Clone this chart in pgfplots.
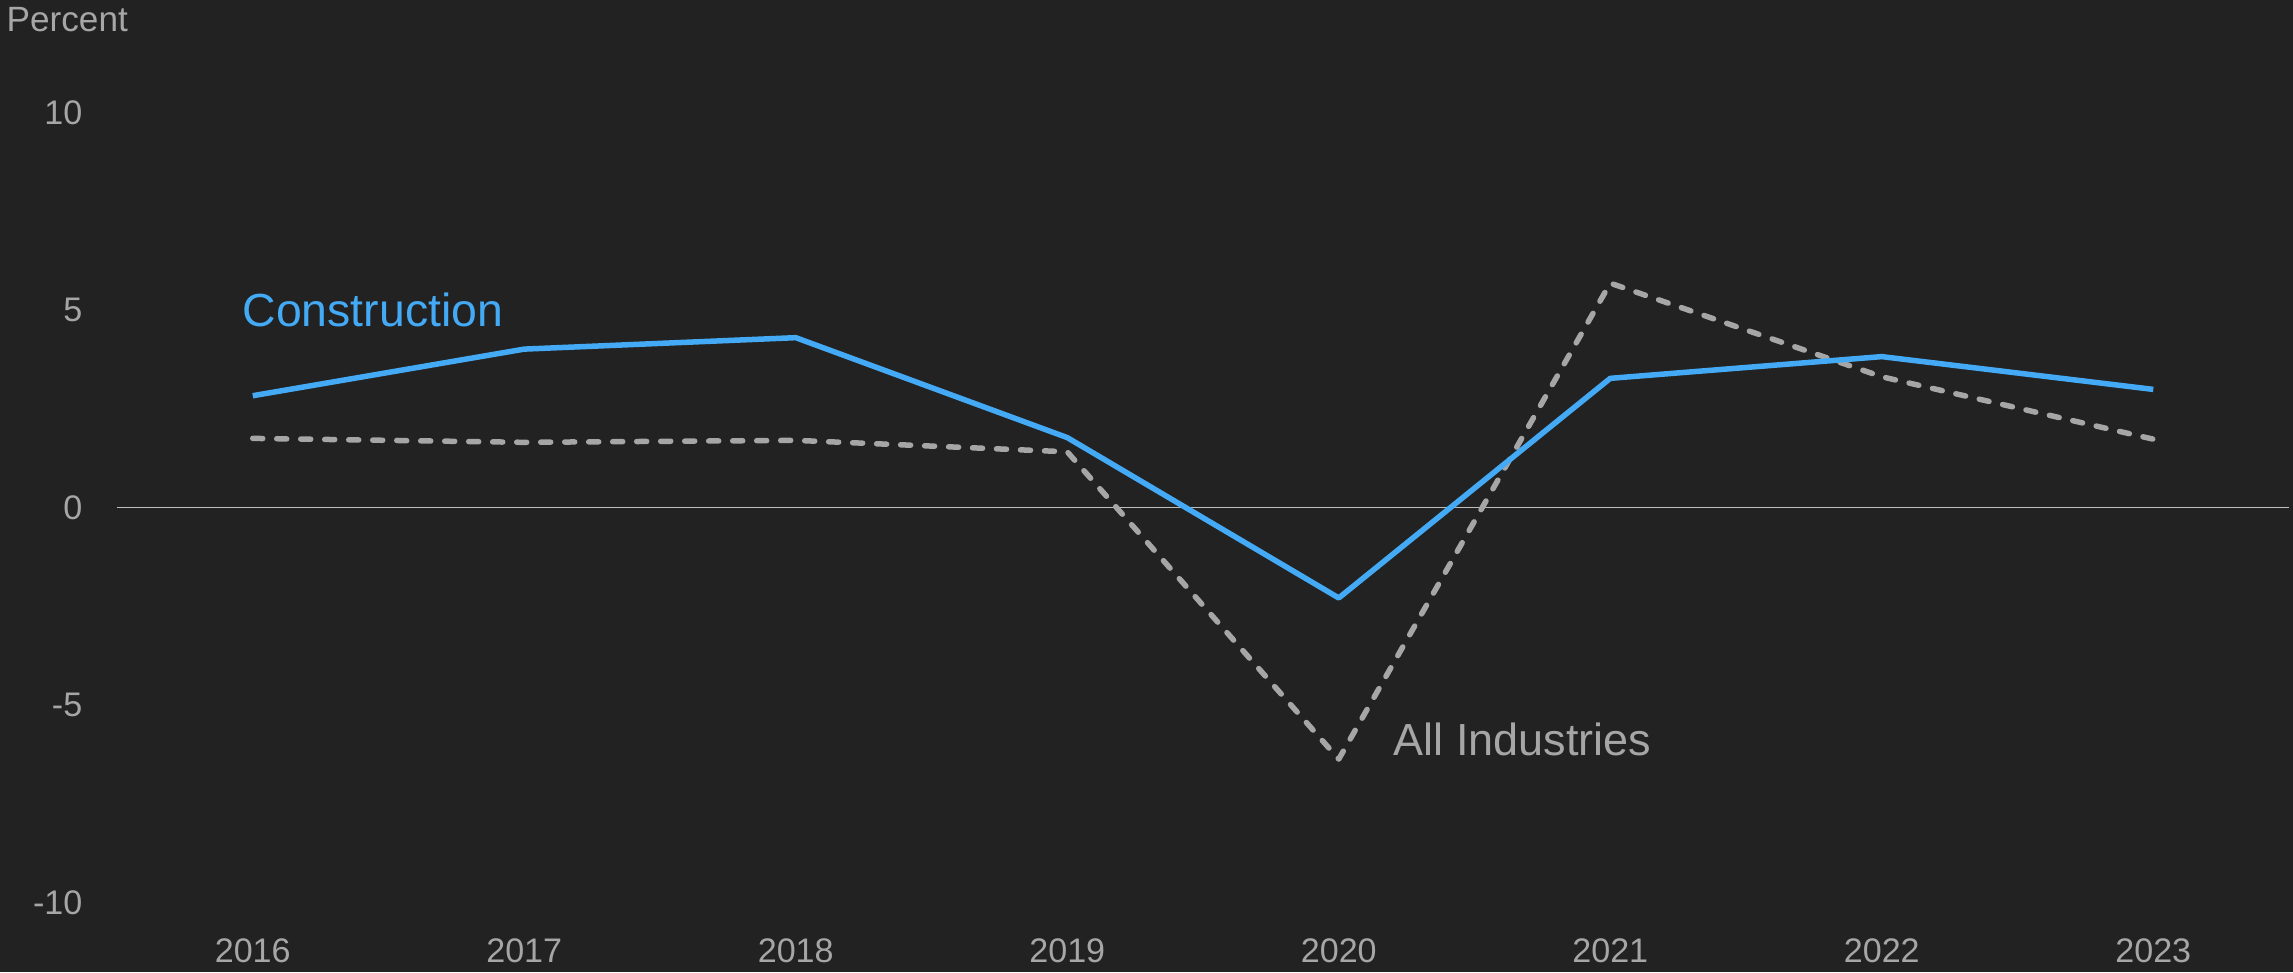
\documentclass[border=0pt]{standalone}
\usepackage{fontspec}
\setmainfont{Liberation Sans}
\usepackage{pgfplots}
\pgfplotsset{compat=1.18}
\definecolor{bg}{RGB}{34,34,34}
\definecolor{blueline}{RGB}{68,170,245}
\definecolor{grayline}{RGB}{166,166,166}
\definecolor{txt}{RGB}{166,166,166}
\definecolor{zero}{RGB}{190,190,190}
\begin{document}
\begin{tikzpicture}
\fill[bg] (0,0) rectangle (229.3mm,97.2mm);
\node[anchor=base west, inner sep=0pt, text=txt, font=\fontsize{10}{12}\selectfont] at (0.6mm,94.0mm) {Percent};
\begin{axis}[
  at={(11.7mm,3.0mm)}, anchor=south west,
  scale only axis, width=217.2mm, height=86.9mm,
  xmin=2015.5, xmax=2023.5, ymin=-11, ymax=11,
  axis line style={draw=none}, tick style={draw=none},
  xtick={2016,2017,2018,2019,2020,2021,2022,2023},
  xticklabels={2016,2017,2018,2019,2020,2021,2022,2023},
  ytick={-10,-5,0,5,10},
  yticklabels={-10,-5,0,5,10},
  xticklabel style={anchor=center, inner sep=0pt, yshift=-0.86mm, text=txt, font=\fontsize{9.7}{11}\selectfont},
  yticklabel style={anchor=east, inner sep=0pt, xshift=-3.4mm, text=txt, font=\fontsize{9.7}{11}\selectfont},
  clip=false,
]
\draw[zero, line width=0.45pt] (axis cs:2015.5,0) -- (axis cs:2023.5,0);
\addplot[grayline, line width=0.55mm, line cap=round, line join=round, dash pattern=on 1.0mm off 1.4mm] coordinates {
(2016,1.75) (2017,1.65) (2018,1.70) (2019,1.41) (2020,-6.37) (2021,5.68) (2022,3.31) (2023,1.73)};
\addplot[blueline, line width=0.55mm, line join=round] coordinates {
(2016,2.83) (2017,4.01) (2018,4.30) (2019,1.77) (2020,-2.29) (2021,3.27) (2022,3.82) (2023,2.99)};
\node[anchor=base west, inner sep=0pt, text=blueline, font=\fontsize{13.2}{15}\selectfont] at (axis cs:2015.96,4.57) {Construction};
\node[anchor=base west, inner sep=0pt, text=txt, font=\fontsize{12.8}{15}\selectfont] at (axis cs:2020.20,-6.29) {All Industries};
\end{axis}
\end{tikzpicture}
\end{document}
